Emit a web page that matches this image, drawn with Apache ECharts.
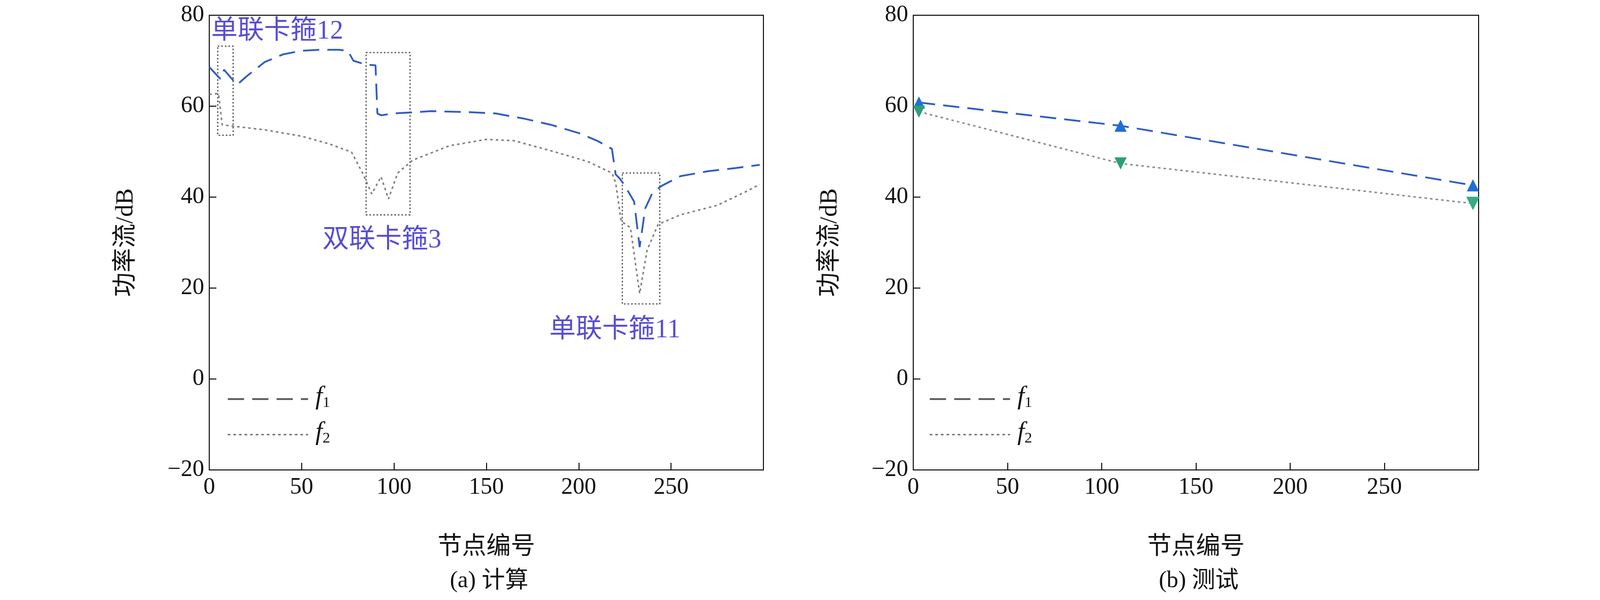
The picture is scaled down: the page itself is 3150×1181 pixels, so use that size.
<!DOCTYPE html>
<html><head><meta charset="utf-8">
<script src="https://cdn.jsdelivr.net/npm/echarts@6/dist/echarts.min.js"></script>
<style>html,body{margin:0;background:#fff}#c{width:3150px;height:1181px}</style>
</head><body><div id="c"></div>
<script>
/* 计算 (a) */
var calcF1 = [[0,68.6],[6,66],[8,68],[15,64.7],[20,66.5],[30,69.7],[40,71.4],[50,72.2],[60,72.4],[70,72.4],[75,72.2],[78,70],[85,69.1],[90,69],[91,58.4],[93,58],[100,58.4],[120,58.9],[140,58.7],[155,58.4],[170,57.3],[185,55.9],[200,54.1],[210,52.4],[218,50.6],[220,45],[222,44.2],[225,42.5],[230,39],[233,29],[236,37.5],[240,41],[245,42.5],[255,44.6],[270,45.7],[285,46.4],[298,47.1]];
var calcF2 = [[0,62.6],[5,62.8],[7,55.9],[15,55.5],[30,54.8],[50,53.4],[65,51.7],[77,49.9],[83,45.3],[88,40.7],[93,44.5],[97,39.6],[102,45.3],[110,48.1],[130,51.3],[150,52.7],[165,52.4],[185,50.2],[205,47.8],[218,45.3],[220,43.2],[223,34.7],[228,33.3],[233,18.8],[237,28.3],[243,34],[255,36.1],[275,38.2],[290,41.1],[298,42.8]];
/* 测试 (b) */
var testF1 = [[3,60.8],[110,55.7],[297,42.6]];
var testF2 = [[3,58.8],[110,47.4],[297,38.6]];
/* 标注框 [x1,y1,x2,y2] 与文字 */
var boxes = [[4.6,73.2,12.9,53.6],[84.9,71.8,108.7,36.1],[223.6,45.3,243.9,16.5]];
var notes = [['单联卡箍12',1,76.4,'left'],['双联卡箍3',93.5,30.5,'center'],['单联卡箍11',219.6,10.7,'center']];
var yTicks = [-20,80,20];
var legendNames = ['1','2'];

var myChart = echarts.init(document.getElementById('c'));
var font = '"Liberation Serif","Noto Sans CJK SC",serif';
var tickFs = 46;

function xAx(i){
  return {gridIndex:i,type:'value',min:0,max:300,interval:50,name:'节点编号',nameLocation:'middle',nameGap:128,
    nameTextStyle:{fontFamily:font,fontSize:48,color:'#111'},
    axisLine:{onZero:false,lineStyle:{color:'#111',width:2}},axisTick:{inside:true,length:14,lineStyle:{width:2}},
    axisLabel:{fontFamily:font,fontSize:tickFs,color:'#111',margin:12,formatter:function(v){return v===300?'':v}},
    splitLine:{show:false}};
}
function yAx(i){
  return {gridIndex:i,type:'value',min:yTicks[0],max:yTicks[1],interval:yTicks[2],name:'功率流/dB',nameLocation:'middle',nameGap:140,
    nameTextStyle:{fontFamily:font,fontSize:48,color:'#111'},
    axisLine:{onZero:false,lineStyle:{color:'#111',width:2}},axisTick:{inside:true,length:14,lineStyle:{width:2}},
    axisLabel:{fontFamily:font,fontSize:tickFs,color:'#111',margin:10,formatter:function(v){return v<0?'\u2212'+(-v):v}},
    splitLine:{show:false}};
}
var f1Style = {color:'#2f5cc0',width:3.5,type:[32,16]};
var f2Style = {color:'#808080',width:3,type:[5,6]};

/* 图例（手绘） */
function legendGraphics(x0){
  var g = [];
  [f1Style,f2Style].forEach(function(st,i){
    var y = 783 + i*70;
    g.push({type:'line',left:x0,top:y,shape:{x1:0,y1:0,x2:158,y2:0},style:{stroke:i?'#777':'#555',lineWidth:st.width,lineDash:st.type}});
    g.push({type:'text',left:x0+175,top:y-26,style:{text:'{f|f}{s|'+legendNames[i]+'}',
      rich:{f:{fontFamily:font,fontStyle:'italic',fontSize:50,fill:'#111'},s:{fontFamily:font,fontSize:30,fill:'#111',padding:[22,0,0,0]}}}});
  });
  return g;
}

var option = {
  backgroundColor:'#fff',
  title:[
    {text:'(a) 计算',left:958,top:1116,textAlign:'center',textStyle:{fontFamily:font,fontSize:46,fontWeight:'normal',color:'#111'}},
    {text:'(b) 测试',left:2355,top:1116,textAlign:'center',textStyle:{fontFamily:font,fontSize:46,fontWeight:'normal',color:'#111'}}
  ],
  grid:[
    {left:412,top:30,width:1091,height:895,show:true,borderColor:'#111',borderWidth:2,backgroundColor:'transparent'},
    {left:1798,top:30,width:1113,height:895,show:true,borderColor:'#111',borderWidth:2,backgroundColor:'transparent'}
  ],
  xAxis:[xAx(0),xAx(1)],
  yAxis:[yAx(0),yAx(1)],
  graphic:legendGraphics(446).concat(legendGraphics(1828)),
  series:[
    {name:'f1',type:'line',xAxisIndex:0,yAxisIndex:0,data:calcF1,showSymbol:false,lineStyle:f1Style,itemStyle:{color:'#2f5cc0'}},
    {name:'f2',type:'line',xAxisIndex:0,yAxisIndex:0,data:calcF2,showSymbol:false,lineStyle:f2Style,itemStyle:{color:'#808080'},
     markArea:{silent:true,itemStyle:{color:'transparent',borderColor:'#333',borderWidth:2,borderType:[3,4]},
       data:boxes.map(function(b){return [{coord:[b[0],b[1]]},{coord:[b[2],b[3]]}]})}},
    {type:'scatter',xAxisIndex:0,yAxisIndex:0,symbolSize:0,silent:true,
     data:notes.map(function(n){return {value:[n[1],n[2]],label:{show:true,position:'inside',align:n[3],formatter:n[0],
       fontFamily:font,fontSize:52,color:'#2a1fc8'}}})},
    {name:'f1 ',type:'line',xAxisIndex:1,yAxisIndex:1,data:testF1,symbol:'triangle',symbolSize:24,
     lineStyle:f1Style,itemStyle:{color:'#1f6fd8'}},
    {name:'f2 ',type:'line',xAxisIndex:1,yAxisIndex:1,data:testF2,symbol:'triangle',symbolRotate:180,symbolSize:24,
     lineStyle:f2Style,itemStyle:{color:'#2e9e7a'}}
  ]
};
myChart.setOption(option);
</script></body></html>
